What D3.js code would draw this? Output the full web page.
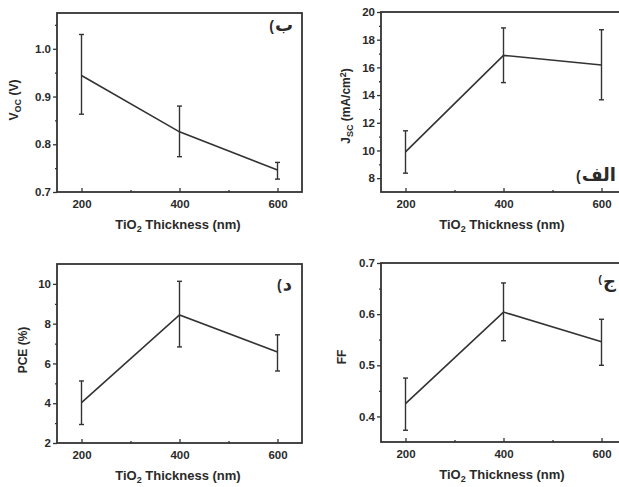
<!DOCTYPE html>
<html><head><meta charset="utf-8">
<script src="https://cdn.jsdelivr.net/npm/d3@7"></script>
<style>
html,body{margin:0;padding:0;background:#fff;}
svg{display:block;}
text{font-family:"Liberation Sans",Arial,sans-serif;font-weight:bold;fill:#2a2a2a;}
.ar{font-family:"DejaVu Sans",sans-serif;font-weight:bold;}
</style></head>
<body>
<svg id="c" width="619" height="487"></svg>
<script>
const thickness = [200, 400, 600];
const xTicks = [200, 400, 600];
const xMinor = [300, 500];

const voc = [0.944, 0.826, 0.746];
const vocHi = [1.03, 0.88, 0.762];
const vocLo = [0.863, 0.774, 0.727];
const vocTicks = [0.7, 0.8, 0.9, 1.0];
const vocMinor = [0.75, 0.85, 0.95, 1.05];

const jsc = [9.9, 16.87, 16.17];
const jscHi = [11.42, 18.85, 18.72];
const jscLo = [8.36, 14.9, 13.66];
const jscTicks = [8, 10, 12, 14, 16, 18, 20];
const jscMinor = [9, 11, 13, 15, 17, 19];

const pce = [4.03, 8.44, 6.58];
const pceHi = [5.12, 10.13, 7.44];
const pceLo = [2.93, 6.83, 5.62];
const pceTicks = [2, 4, 6, 8, 10];
const pceMinor = [3, 5, 7, 9];

const ff = [0.425, 0.604, 0.546];
const ffHi = [0.475, 0.661, 0.59];
const ffLo = [0.373, 0.548, 0.5];
const ffTicks = [0.4, 0.5, 0.6, 0.7];
const ffMinor = [0.45, 0.55, 0.65];

const svg = d3.select("#c");
const ink = "#333";

function panel(o) {
  const g = svg.append("g");
  const x = d3.scaleLinear().domain([150, 650]).range([o.l, o.r]);
  const y = d3.scaleLinear().domain(o.dom).range([o.b, o.t]);

  const yAx = d3.axisLeft(y).tickValues(o.ticks).tickFormat(o.fmt).tickSize(4).tickPadding(2);
  const yMin = d3.axisLeft(y).tickValues(o.minor).tickFormat("").tickSize(2);
  const xAx = d3.axisBottom(x).tickValues(xTicks).tickFormat(d3.format("d")).tickSizeInner(-4).tickSizeOuter(0).tickPadding(8);
  const xMin = d3.axisBottom(x).tickValues(xMinor).tickFormat("").tickSizeInner(-2).tickSizeOuter(0);

  g.append("g").attr("transform", `translate(${o.l},0)`).call(yAx);
  g.append("g").attr("transform", `translate(${o.l},0)`).call(yMin);
  g.append("g").attr("transform", `translate(0,${o.b})`).call(xAx);
  g.append("g").attr("transform", `translate(0,${o.b})`).call(xMin);
  g.selectAll(".domain").remove();
  g.selectAll(".tick line").attr("stroke", ink).attr("stroke-width", 1.3);
  g.selectAll(".tick text").attr("font-size", 11.5).attr("fill", "#2a2a2a")
    .style("font-family", "Liberation Sans, Arial, sans-serif").style("font-weight", "bold");

  g.append("rect").attr("x", o.l).attr("y", o.t).attr("width", o.r - o.l).attr("height", o.b - o.t)
    .attr("fill", "none").attr("stroke", ink).attr("stroke-width", 1.8);

  thickness.forEach((t, i) => {
    const cx = x(t);
    g.append("line").attr("x1", cx).attr("x2", cx).attr("y1", y(o.lo[i])).attr("y2", y(o.hi[i]))
      .attr("stroke", ink).attr("stroke-width", 1.4);
    [o.lo[i], o.hi[i]].forEach(v => {
      g.append("line").attr("x1", cx - 2.5).attr("x2", cx + 2.5).attr("y1", y(v)).attr("y2", y(v))
        .attr("stroke", ink).attr("stroke-width", 1.4);
    });
  });
  const line = d3.line().x((d, i) => x(thickness[i])).y(d => y(d));
  g.append("path").datum(o.vals).attr("d", line).attr("fill", "none")
    .attr("stroke", ink).attr("stroke-width", 1.6);

  const xl = g.append("text").attr("x", o.l + 121).attr("y", o.b + 37)
    .attr("text-anchor", "middle").attr("font-size", 13);
  xl.append("tspan").text("TiO");
  xl.append("tspan").text("2").attr("font-size", 9).attr("dy", 3);
  xl.append("tspan").text(" Thickness (nm)").attr("dy", -3);

  const yl = g.append("text").attr("transform", `translate(${o.yl[0]},${o.yl[1]}) rotate(-90)`)
    .attr("text-anchor", "middle").attr("font-size", 12);
  o.ylab(yl);

  const letter = g.append("text").attr("class", "ar").attr("x", o.tag[0]).attr("y", o.tag[1])
    .attr("text-anchor", "end").attr("font-size", 18).text(o.tagText);
  const bb = letter.node().getBBox();
  g.append("text").attr("x", bb.x - 1).attr("y", o.tag[1] + o.parDy).attr("text-anchor", "end")
    .attr("font-size", o.parSize).text("(");
}

panel({l: 57, r: 302, t: 13, b: 192, dom: [0.7, 1.075], ticks: vocTicks, minor: vocMinor,
  fmt: d3.format(".1f"), vals: voc, hi: vocHi, lo: vocLo, yl: [18, 100],
  ylab: t => { t.append("tspan").text("V"); t.append("tspan").text("OC").attr("font-size", 9).attr("dy", 3);
               t.append("tspan").text(" (V)").attr("dy", -3); },
  tag: [293, 31], tagText: "ب", parDy: 0, parSize: 14});

panel({l: 381, r: 626, t: 12, b: 192, dom: [7, 20], ticks: jscTicks, minor: jscMinor,
  fmt: d3.format("d"), vals: jsc, hi: jscHi, lo: jscLo, yl: [350, 106],
  ylab: t => { t.append("tspan").text("J"); t.append("tspan").text("SC").attr("font-size", 9).attr("dy", 3);
               t.append("tspan").text(" (mA/cm").attr("dy", -3);
               t.append("tspan").text("2").attr("font-size", 9).attr("dy", -4);
               t.append("tspan").text(")").attr("dy", 4); },
  tag: [616, 181], tagText: "الف", parDy: 0, parSize: 14});

panel({l: 57, r: 302, t: 264, b: 443, dom: [2, 11], ticks: pceTicks, minor: pceMinor,
  fmt: d3.format("d"), vals: pce, hi: pceHi, lo: pceLo, yl: [27, 350],
  ylab: t => t.text("PCE (%)"),
  tag: [292, 290], tagText: "د", parDy: 0, parSize: 14});

panel({l: 381, r: 626, t: 263, b: 442, dom: [0.35, 0.7], ticks: ffTicks, minor: ffMinor,
  fmt: d3.format(".1f"), vals: ff, hi: ffHi, lo: ffLo, yl: [346, 357],
  ylab: t => t.text("FF"),
  tag: [616, 287], tagText: "ج", parDy: -4, parSize: 11});
</script>
</body></html>
